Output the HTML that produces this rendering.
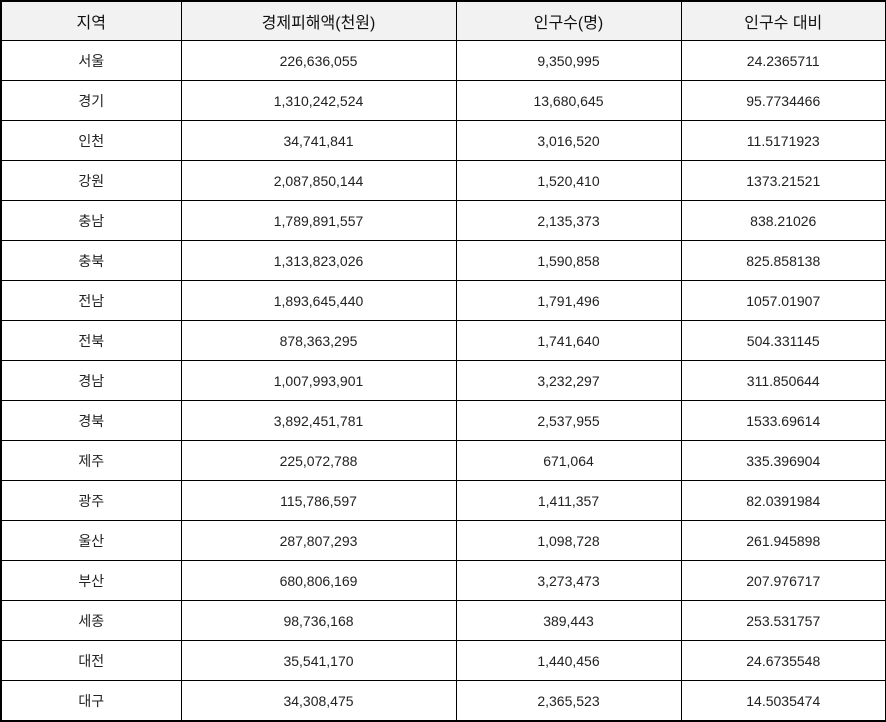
<!DOCTYPE html>
<html><head><meta charset="utf-8"><style>
body{margin:0;width:886px;height:721px;background:#fff;overflow:hidden;font-family:"Liberation Sans","Noto Sans CJK KR",sans-serif;}
table{position:absolute;left:0;top:0;border-collapse:collapse;table-layout:fixed;width:885px;border:2px solid #000;}
td,th{border:1px solid #000;height:39px;padding:0;text-align:center;font-size:14px;color:#222;font-weight:normal;}
th{background:#f2f2f2;font-size:16px;color:#111;height:38px;}
</style></head><body>
<table>
<colgroup><col style="width:180px"><col style="width:275px"><col style="width:225px"><col style="width:205px"></colgroup>
<tr><th>지역</th><th>경제피해액(천원)</th><th>인구수(명)</th><th>인구수 대비</th></tr>
<tr><td>서울</td><td>226,636,055</td><td>9,350,995</td><td>24.2365711</td></tr>
<tr><td>경기</td><td>1,310,242,524</td><td>13,680,645</td><td>95.7734466</td></tr>
<tr><td>인천</td><td>34,741,841</td><td>3,016,520</td><td>11.5171923</td></tr>
<tr><td>강원</td><td>2,087,850,144</td><td>1,520,410</td><td>1373.21521</td></tr>
<tr><td>충남</td><td>1,789,891,557</td><td>2,135,373</td><td>838.21026</td></tr>
<tr><td>충북</td><td>1,313,823,026</td><td>1,590,858</td><td>825.858138</td></tr>
<tr><td>전남</td><td>1,893,645,440</td><td>1,791,496</td><td>1057.01907</td></tr>
<tr><td>전북</td><td>878,363,295</td><td>1,741,640</td><td>504.331145</td></tr>
<tr><td>경남</td><td>1,007,993,901</td><td>3,232,297</td><td>311.850644</td></tr>
<tr><td>경북</td><td>3,892,451,781</td><td>2,537,955</td><td>1533.69614</td></tr>
<tr><td>제주</td><td>225,072,788</td><td>671,064</td><td>335.396904</td></tr>
<tr><td>광주</td><td>115,786,597</td><td>1,411,357</td><td>82.0391984</td></tr>
<tr><td>울산</td><td>287,807,293</td><td>1,098,728</td><td>261.945898</td></tr>
<tr><td>부산</td><td>680,806,169</td><td>3,273,473</td><td>207.976717</td></tr>
<tr><td>세종</td><td>98,736,168</td><td>389,443</td><td>253.531757</td></tr>
<tr><td>대전</td><td>35,541,170</td><td>1,440,456</td><td>24.6735548</td></tr>
<tr><td>대구</td><td>34,308,475</td><td>2,365,523</td><td>14.5035474</td></tr>
</table>
</body></html>
